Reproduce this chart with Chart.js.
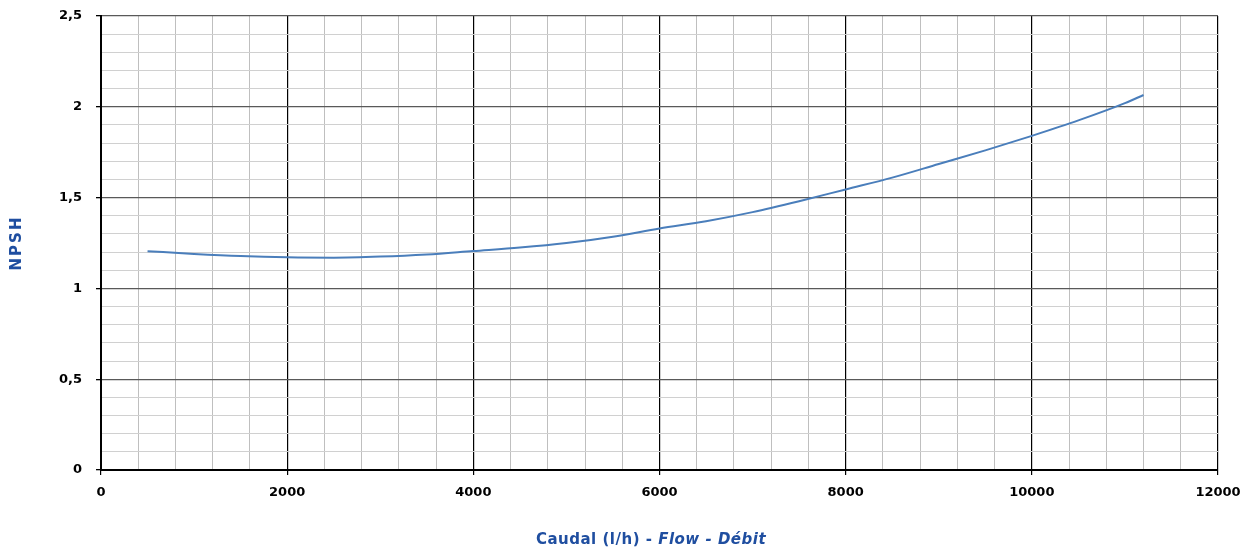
<!DOCTYPE html>
<html>
<head>
<meta charset="utf-8">
<script src="https://cdn.jsdelivr.net/npm/chart.js@4/dist/chart.umd.min.js"></script>
<style>
html,body{margin:0;padding:0;background:#fff;}
#wrap{position:relative;width:1250px;height:550px;}
</style>
</head>
<body>
<div id="wrap"><canvas id="c" width="1250" height="550"></canvas></div>
<script>
const flow = [500,1000,1500,2000,2500,3000,3500,4000,4500,5000,5500,6000,6500,7000,7500,8000,8500,9000,9500,10000,10500,11000,11200];
const npsh = [1.205,1.19,1.178,1.171,1.169,1.175,1.187,1.206,1.225,1.25,1.285,1.33,1.37,1.42,1.48,1.545,1.61,1.685,1.76,1.84,1.925,2.02,2.065];
const xTitleParts = [["Caudal (l/h) - ","bold"],["Flow - Débit","italic bold"]];
const yTitle = "NPSH";

const blue = "#1f4ea0";
const tickFont = {family:"DejaVu Sans", size:13, weight:"bold"};

const titlePlugin = {
  id:"titles",
  afterDraw(chart){
    const ctx = chart.ctx;
    ctx.save();
    ctx.fillStyle = blue;
    ctx.textBaseline = "middle";
    if ("letterSpacing" in ctx) ctx.letterSpacing = "0.5px";
    let total = 0;
    const fonts = xTitleParts.map(p => p[1] + " 15px 'DejaVu Sans'");
    xTitleParts.forEach((p,i)=>{ctx.font = fonts[i]; total += ctx.measureText(p[0]).width;});
    let x = 651 - total/2;
    ctx.textAlign = "left";
    xTitleParts.forEach((p,i)=>{ctx.font = fonts[i]; ctx.fillText(p[0], x, 540); x += ctx.measureText(p[0]).width;});
    const ca = chart.chartArea;
    ctx.translate(17, (ca.top + ca.bottom)/2);
    ctx.rotate(-Math.PI/2);
    ctx.textAlign = "center";
    if ("letterSpacing" in ctx) ctx.letterSpacing = "2px";
    ctx.font = "bold 15px 'DejaVu Sans'";
    ctx.fillText(yTitle, 0, 0);
    ctx.restore();
  }
};

new Chart(document.getElementById("c"), {
  type:"line",
  data:{
    datasets:[{
      data: flow.map((f,i)=>({x:f, y:npsh[i]})),
      borderColor:"#4a7ebb",
      borderWidth:2,
      pointRadius:0,
      fill:false,
      cubicInterpolationMode:"monotone"
    }]
  },
  options:{
    responsive:false,
    animation:false,
    layout:{padding:{left:0,right:32,top:16,bottom:0}},
    plugins:{legend:{display:false},tooltip:{enabled:false}},
    scales:{
      x:{
        type:"linear",
        min:0,max:12000,
        afterFit(s){s.height = 80; s.paddingLeft = 0; s.paddingRight = 0;},
        ticks:{
          stepSize:400,
          autoSkip:false,
          maxRotation:0,
          padding:10,
          color:"#000",
          font:tickFont,
          callback:(v)=> (Math.round(v)%2000===0 ? String(Math.round(v)) : "")
        },
        grid:{
          color:(c)=> (Math.round(c.tick.value)%2000===0 ? "#000" : "#bfbfbf"),
          lineWidth:(c)=> (Math.round(c.tick.value)%2000===0 ? 1.2 : 1),
          tickColor:(c)=> (Math.round(c.tick.value)%2000===0 ? "#000" : "rgba(0,0,0,0)"),
          tickLength:5
        },
        border:{color:"#000",width:2}
      },
      y:{
        min:0,max:2.5,
        afterFit(s){s.width = 101; s.paddingTop = 0; s.paddingBottom = 0;},
        ticks:{
          stepSize:0.1,
          autoSkip:false,
          padding:14,
          color:"#000",
          font:tickFont,
          callback:(v)=>{const t=Math.round(v*10); return t%5===0 ? String(t/10).replace(".",",") : "";}
        },
        grid:{
          color:(c)=>{const t=Math.round(c.tick.value*10); return t%5===0 ? "#595959" : "#d0d0d0";},
          lineWidth:(c)=>{const t=Math.round(c.tick.value*10); return t%5===0 ? 1.3 : 1;},
          tickColor:(c)=>{const t=Math.round(c.tick.value*10); return t%5===0 ? "#000" : "rgba(0,0,0,0)";},
          tickLength:5
        },
        border:{color:"#000",width:2}
      }
    }
  },
  plugins:[titlePlugin]
});
</script>
</body>
</html>
